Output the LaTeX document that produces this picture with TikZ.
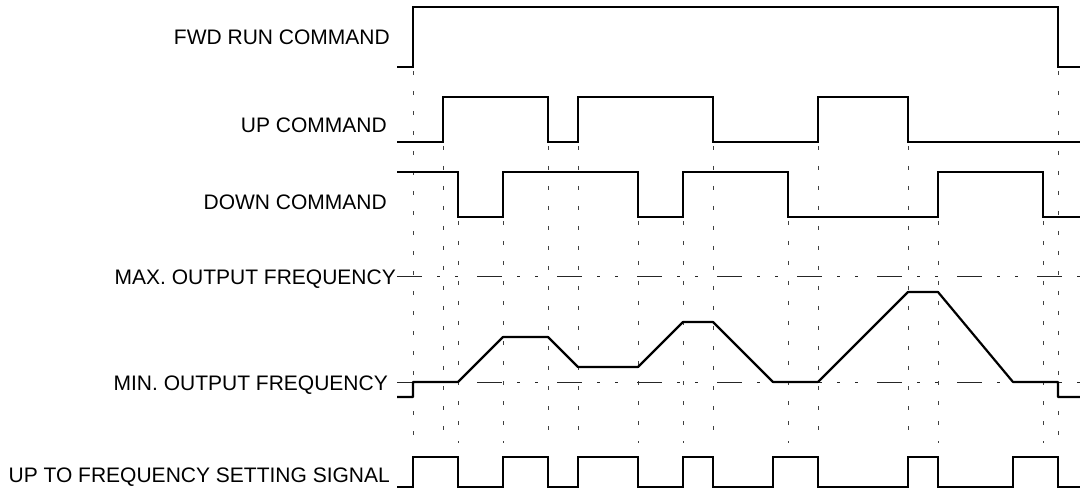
\documentclass[tikz,border=0pt]{standalone}
\usepackage{fontspec}
\setmainfont{Liberation Sans}
\begin{document}
\begin{tikzpicture}[x=1pt,y=-1pt,
  sig/.style={line width=2.2pt,line join=miter,line cap=butt},
  guide/.style={line width=0.9pt,black!75,dash pattern=on 4pt off 16pt},
  level/.style={line width=1pt,black!85,dash pattern=on 25pt off 15pt on 3pt off 15pt on 3pt off 19pt},
  lbl/.style={anchor=base east,inner sep=0pt,font=\fontsize{21}{25}\selectfont}]
\useasboundingbox (0,0) rectangle (1080,489);
% labels
\node[lbl] (fwd)  at (390,45)  {FWD RUN COMMAND};
\node[lbl] (up)   at (387,133) {UP COMMAND};
\node[lbl] (down) at (387,210) {DOWN COMMAND};
\node[lbl] (max)  at (396,285) {MAX. OUTPUT FREQUENCY};
\node[lbl] (min)  at (388,390) {MIN. OUTPUT FREQUENCY};
\node[lbl] (upto) at (390,482) {UP TO FREQUENCY SETTING SIGNAL};
% vertical guide lines
\foreach \x/\y in {413/67,443/142,458/217,503/217,548/142,578/142,638/217,683/217,713/142,788/217,818/142,908/142,938/217,1043/217,1058/67}
  \draw[guide] (\x,\y+4) -- (\x,443);
% level lines
\coordinate (maxs) at (397,277);
\coordinate (maxe) at (1080,277);
\coordinate (mins) at (397,382);
\coordinate (mine) at (1080,382);
\draw[level] (maxs) -- (maxe);
\draw[level] (mins) -- (mine);
% FWD
\draw[sig] (397,67) -- (413,67) -- (413,7) -- (1058,7) -- (1058,67) -- (1080,67);
% UP
\draw[sig] (397,142) -- (443,142) -- (443,97) -- (548,97) -- (548,142) -- (578,142) -- (578,97)
  -- (713,97) -- (713,142) -- (818,142) -- (818,97) -- (908,97) -- (908,142) -- (1080,142);
% DOWN
\draw[sig] (397,172) -- (458,172) -- (458,217) -- (503,217) -- (503,172) -- (638,172) -- (638,217)
  -- (683,217) -- (683,172) -- (788,172) -- (788,217) -- (938,217) -- (938,172) -- (1043,172)
  -- (1043,217) -- (1080,217);
% frequency
\draw[sig,line join=round] (397,397) -- (413,397) -- (413,382) -- (458,382) -- (503,337) -- (548,337)
  -- (578,367) -- (638,367) -- (683,322) -- (713,322) -- (773,382) -- (818,382) -- (908,292)
  -- (938,292) -- (1013,382) -- (1058,382) -- (1058,397) -- (1080,397);
% up to frequency
\draw[sig] (397,487) -- (413,487) -- (413,457) -- (458,457) -- (458,487) -- (503,487) -- (503,457)
  -- (548,457) -- (548,487) -- (578,487) -- (578,457) -- (638,457) -- (638,487) -- (683,487)
  -- (683,457) -- (713,457) -- (713,487) -- (773,487) -- (773,457) -- (818,457) -- (818,487)
  -- (908,487) -- (908,457) -- (938,457) -- (938,487) -- (1013,487) -- (1013,457) -- (1058,457)
  -- (1058,487) -- (1080,487);
\end{tikzpicture}
\end{document}
